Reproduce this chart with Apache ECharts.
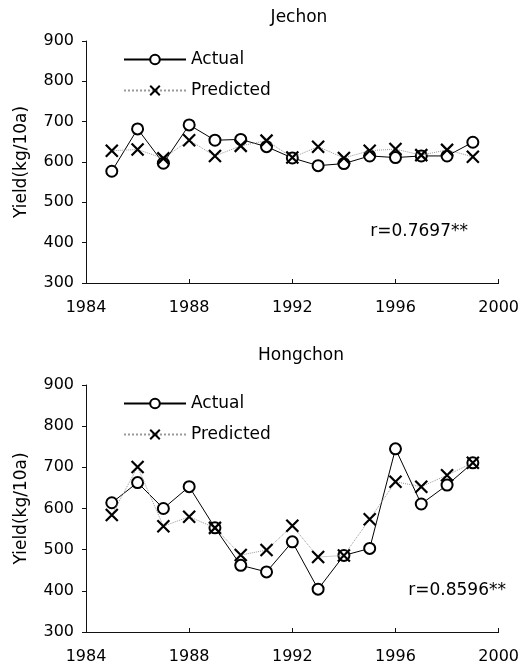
<!DOCTYPE html>
<html><head><meta charset="utf-8">
<script src="https://cdn.jsdelivr.net/npm/echarts@6/dist/echarts.min.js"></script>
<style>html,body{margin:0;padding:0;background:#fff}#c{width:522px;height:672px}</style>
</head><body><div id="c"></div>
<script>
const years = [1985,1986,1987,1988,1989,1990,1991,1992,1993,1994,1995,1996,1997,1998,1999];
const jechonActual =    [577, 682, 597, 692, 654, 656, 638, 610, 591, 596, 615, 611, 615, 615, 649];
const jechonPredicted = [628, 631, 609, 654, 615, 640, 653, 611, 638, 610, 628, 632, 617, 630, 613];
const hongchonActual =    [614, 663, 600, 653, 553, 462, 446, 519, 404, 486, 503, 745, 611, 657, 711];
const hongchonPredicted = [584, 701, 557, 580, 553, 487, 499, 558, 482, 486, 574, 665, 653, 681, 711];
const titles = ['Jechon', 'Hongchon'];
const rLabels = ['r=0.7697**', 'r=0.8596**'];
const yTicks = {min: 300, max: 900, interval: 100};
const xTicks = {min: 1984, max: 2000, interval: 4};

const FONT = 'DejaVu Sans';
const xPath = 'path://M0,0L10,10M10,0L0,10';
const pair = v => years.map((y, i) => [y, v[i]]);

function xAxis(gi) {
  return {
    type: 'value', gridIndex: gi, min: xTicks.min, max: xTicks.max, interval: xTicks.interval,
    axisLine: {show: true, lineStyle: {color: '#111', width: 1}},
    axisTick: {show: true, inside: true, length: 4, lineStyle: {color: '#111'}},
    axisLabel: {color: '#000', fontFamily: FONT, fontSize: 16, margin: 17, formatter: v => String(v)},
    splitLine: {show: false}
  };
}
function yAxis(gi) {
  return {
    type: 'value', gridIndex: gi, min: yTicks.min, max: yTicks.max, interval: yTicks.interval,
    name: 'Yield(kg/10a)', nameLocation: 'middle', nameGap: 56, nameRotate: 90,
    nameTextStyle: {color: '#000', fontFamily: FONT, fontSize: 17},
    axisLine: {show: true, lineStyle: {color: '#111', width: 1}},
    axisTick: {show: true, inside: false, length: 4, lineStyle: {color: '#111'}},
    axisLabel: {color: '#000', fontFamily: FONT, fontSize: 16, margin: 12},
    splitLine: {show: false}
  };
}
function actual(gi, v) {
  return {
    name: 'Actual', type: 'line', xAxisIndex: gi, yAxisIndex: gi, data: pair(v),
    symbol: 'emptyCircle', symbolSize: 11, z: 2,
    lineStyle: {color: '#000', width: 1},
    itemStyle: {color: '#000', borderColor: '#000', borderWidth: 1.8}
  };
}
function predicted(gi, v) {
  return {
    name: 'Predicted', type: 'line', xAxisIndex: gi, yAxisIndex: gi, data: pair(v),
    symbol: xPath, symbolSize: 12, z: 3,
    lineStyle: {color: '#999', width: 1, type: 'dotted'},
    itemStyle: {color: 'rgba(0,0,0,0)', borderColor: '#000', borderWidth: 2.2}
  };
}
function legend(top) {
  return {
    data: ['Actual', 'Predicted'], orient: 'vertical', left: 118, top: top,
    itemWidth: 62, itemHeight: 12, itemGap: 14, selectedMode: false,
    textStyle: {color: '#000', fontFamily: FONT, fontSize: 17}
  };
}

const chart = echarts.init(document.getElementById('c'), null, {renderer: 'canvas'});
chart.setOption({
  backgroundColor: '#fff',
  animation: false,
  title: [
    {text: titles[0], left: 294, top: 4, textAlign: 'center', textStyle: {color: '#000', fontFamily: FONT, fontSize: 17, fontWeight: 'normal'}},
    {text: titles[1], left: 296, top: 342, textAlign: 'center', textStyle: {color: '#000', fontFamily: FONT, fontSize: 17, fontWeight: 'normal'}}
  ],
  legend: [legend(46), legend(390)],
  grid: [
    {left: 86, right: 20, top: 41, height: 242},
    {left: 86, right: 18, top: 385, height: 247}
  ],
  xAxis: [xAxis(0), xAxis(1)],
  yAxis: [yAxis(0), yAxis(1)],
  series: [
    actual(0, jechonActual), predicted(0, jechonPredicted),
    actual(1, hongchonActual), predicted(1, hongchonPredicted)
  ],
  graphic: [
    {type: 'text', right: 54, top: 223, style: {text: rLabels[0], fill: '#000', font: '17px "DejaVu Sans"'}},
    {type: 'text', right: 16, top: 582, style: {text: rLabels[1], fill: '#000', font: '17px "DejaVu Sans"'}}
  ]
});
</script></body></html>
